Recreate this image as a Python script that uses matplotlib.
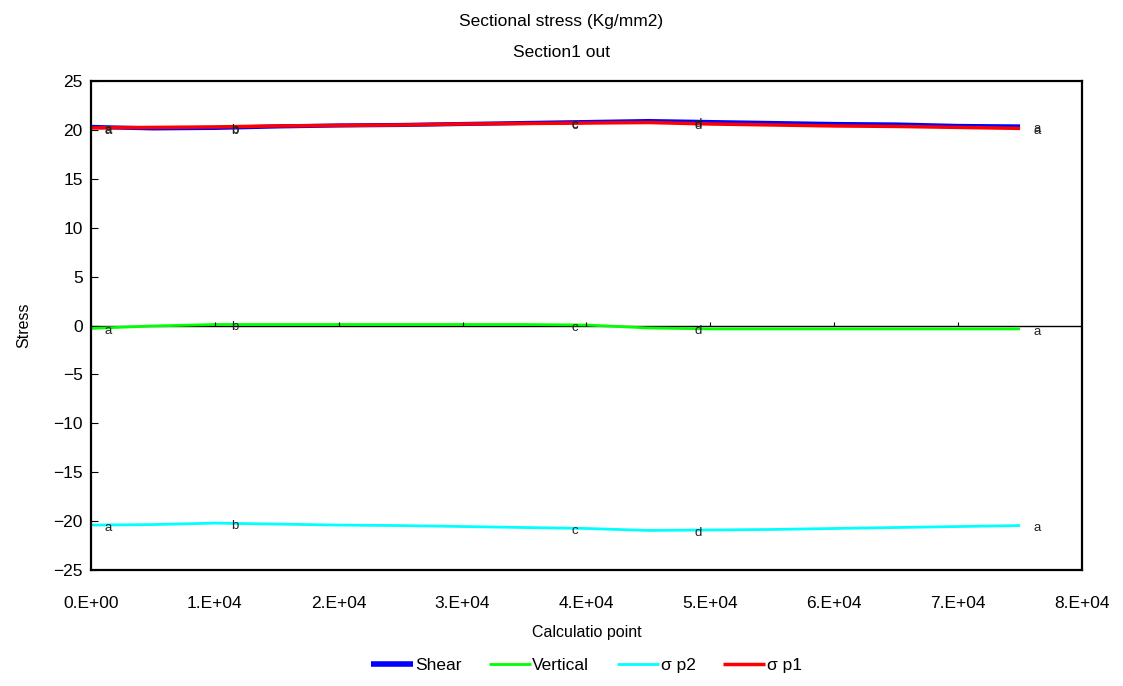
import numpy as np
import matplotlib.pyplot as plt
from matplotlib.ticker import FuncFormatter, MultipleLocator

plt.rcParams['font.family'] = ['Liberation Sans', 'DejaVu Sans']

# calculation points along the section
calc_point = [0, 5000, 10000, 15000, 20000, 25000, 30000, 35000,
              40000, 45000, 50000, 55000, 60000, 65000, 70000, 75000]

shear = [20.3, 20.15, 20.2, 20.35, 20.45, 20.5, 20.6, 20.7,
         20.8, 20.9, 20.8, 20.7, 20.6, 20.55, 20.4, 20.35]
vertical = [-0.3, -0.05, 0.1, 0.1, 0.1, 0.1, 0.1, 0.1,
            0.05, -0.25, -0.35, -0.35, -0.35, -0.35, -0.35, -0.35]
sigma_p2 = [-20.4, -20.35, -20.2, -20.3, -20.4, -20.45, -20.55, -20.65,
            -20.75, -20.95, -20.9, -20.85, -20.75, -20.65, -20.55, -20.45]
sigma_p1 = [20.2, 20.25, 20.3, 20.4, 20.45, 20.5, 20.6, 20.65,
            20.7, 20.75, 20.6, 20.5, 20.4, 20.35, 20.25, 20.15]

# section marks
mark_x = [0, 10300, 37700, 47700, 75000]
mark_names = ['a', 'b', 'c', 'd', 'a']

series = [
    ('Shear', shear, '#0000ff', 3.0),
    ('Vertical', vertical, '#00ff00', 2.0),
    ('σ p2', sigma_p2, '#00ffff', 2.0),
    ('σ p1', sigma_p1, '#ff0000', 2.5),
]

fig = plt.figure(figsize=(11.23, 6.86), dpi=100)
ax = fig.add_axes([0.081, 0.169, 0.8825, 0.713])

for name, vals, col, lw in series:
    ax.plot(calc_point, vals, color=col, lw=lw, label=name, solid_capstyle='butt')
    ys = np.interp(mark_x, calc_point, vals)
    for mx, my, t in zip(mark_x, ys, mark_names):
        ax.annotate(t, (mx, my), xytext=(12, -2), textcoords='offset points',
                    ha='center', va='center', fontsize=9.5, color='#222222')

ax.set_xlim(0, 80000)
ax.set_ylim(-25, 25)
ax.xaxis.set_major_locator(MultipleLocator(10000))
ax.yaxis.set_major_locator(MultipleLocator(5))
ax.xaxis.set_major_formatter(FuncFormatter(lambda v, p: f"{v:#.0E}"))

# zero line with small ticks on it
ax.axhline(0, color='black', lw=1.0, zorder=1)
xt = ax.get_xticks()
ax.vlines(xt[1:-1], 0, 0.35, color='black', lw=0.8)

ax.tick_params(axis='x', length=0, labelsize=12.5, pad=19)
ax.tick_params(axis='y', direction='in', length=5, labelsize=12.5, pad=6)
for s in ax.spines.values():
    s.set_linewidth(1.6)

ax.set_xlabel('Calculatio point', fontsize=11.5, labelpad=10)
ax.set_ylabel('Stress', fontsize=11.5, labelpad=16)

fig.text(0.5, 0.969, 'Sectional stress (Kg/mm2)', ha='center', va='center', fontsize=12.5)
fig.text(0.5, 0.923, 'Section1 out', ha='center', va='center', fontsize=12.5)

leg = ax.legend(loc='center', bbox_to_anchor=(0.5, -0.195), ncol=4, frameon=False,
                fontsize=12.5, handlelength=2.4, handletextpad=0.1, columnspacing=1.6)
leg.get_lines()[0].set_linewidth(4)

fig.savefig('out.png', dpi=100)
